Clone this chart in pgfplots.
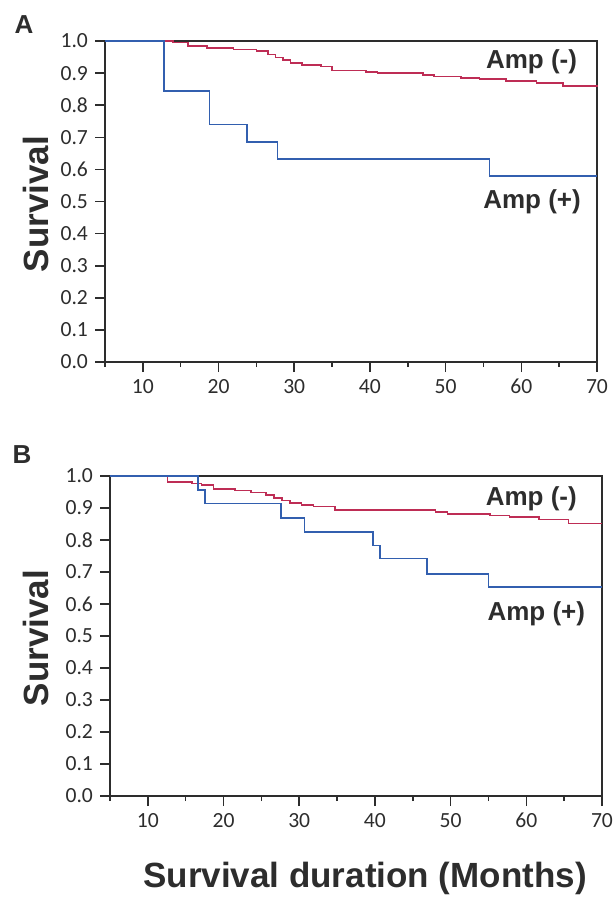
\documentclass[border=0pt]{standalone}
\usepackage{fontspec}
\setmainfont{Liberation Sans}
\newfontfamily\ticksfont{Carlito}
\usepackage{pgfplots}
\pgfplotsset{compat=1.18}

\definecolor{ampneg}{RGB}{190,45,85}
\definecolor{amppos}{RGB}{50,95,175}
\definecolor{ink}{RGB}{45,45,45}

\pgfplotsset{
  kmaxis/.style={
    scale only axis,
    anchor=south west,
    width=246pt,
    xmin=5, xmax=70, ymin=0, ymax=1,
    axis line style={ink, line width=1pt},
    tick style={ink, line width=0.8pt},
    tick align=outside, tick pos=left,
    major tick length=5pt, minor tick length=2.5pt,
    xtick={10,20,...,70}, minor xtick={5,15,...,65},
    ytick={0,0.1,...,1.0},
    tick label style={font=\ticksfont\fontsize{10.8}{11}\selectfont, text=ink},
    /pgf/number format/assume math mode=true,
    yticklabel style={/pgf/number format/.cd, fixed, fixed zerofill, precision=1},
    xticklabel style={/pgf/number format/.cd, fixed, precision=0},
    clip=false,
  },
  neg/.style={const plot, ampneg, line width=0.8pt},
  pos/.style={const plot, amppos, line width=0.9pt},
}
\tikzset{
  amplab/.style={anchor=east, font=\bfseries\fontsize{13}{14}\selectfont, text=ink},
  biglab/.style={font=\bfseries\fontsize{17.5}{18}\selectfont, text=ink},
}

\begin{document}
\begin{tikzpicture}
\useasboundingbox (0,0) rectangle (307.5pt,-449.5pt);

% panel A
\begin{axis}[kmaxis, at={(52.5pt,-181pt)}, height=160.5pt]
\addplot[neg] coordinates {
(5,1.0) (14,0.995) (16,0.985) (18.5,0.978) (22,0.974) (25,0.968)
(26.5,0.958) (27.5,0.948) (28.5,0.940) (29.5,0.932) (31,0.926)
(33.5,0.920) (35,0.908) (39.5,0.904) (41,0.900) (47,0.895) (48.5,0.889)
(52,0.885) (54.5,0.881) (58,0.876) (62,0.869) (65.5,0.860) (70,0.858)};
\addplot[pos] coordinates {
(5,1.0) (12.8,0.845) (18.8,0.740) (23.8,0.685) (27.8,0.633) (55.8,0.580) (70,0.580)};
\node[amplab] at (axis cs:68.3,0.935) {Amp (-)};
\node[amplab] at (axis cs:68.8,0.50) {Amp (+)};
\end{axis}

% panel B
\begin{axis}[kmaxis, at={(55pt,-398pt)}, height=160pt]
\addplot[neg] coordinates {
(5,1.0) (12.6,0.981) (15.8,0.976) (17.1,0.971) (18.7,0.960) (21.5,0.955)
(23.6,0.948) (25.6,0.940) (26.7,0.931) (27.7,0.924) (28.8,0.916)
(30.3,0.910) (31.9,0.905) (34.7,0.893) (48,0.888) (49.6,0.882)
(55.2,0.877) (57.8,0.872) (61.7,0.864) (65.6,0.852) (70,0.852)};
\addplot[pos] coordinates {
(5,1.0) (16.6,0.957) (17.5,0.914) (27.6,0.870) (30.7,0.825) (39.7,0.783)
(40.7,0.742) (46.9,0.695) (55,0.653) (70,0.653)};
\node[amplab] at (axis cs:67.6,0.928) {Amp (-)};
\node[amplab] at (axis cs:68.7,0.570) {Amp (+)};
\end{axis}

% labels
\node[biglab, font=\bfseries\fontsize{13}{14}\selectfont] at (12pt,-12.5pt) {A};
\node[biglab, font=\bfseries\fontsize{13}{14}\selectfont] at (11pt,-227.5pt) {B};
\node[biglab, rotate=90] at (18pt,-102pt) {Survival};
\node[biglab, rotate=90] at (18pt,-319pt) {Survival};
\node[biglab] at (182.5pt,-439pt) {Survival duration (Months)};
\end{tikzpicture}
\end{document}
